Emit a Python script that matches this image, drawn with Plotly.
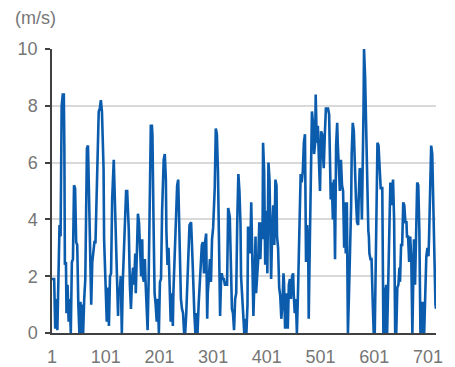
import plotly.graph_objects as go

# Wind speed record: sample number and speed (m/s)
sample_no = [
    1, 5, 7, 8, 11, 13, 15, 17, 19, 21, 23, 24, 25, 27, 28, 30, 32, 34, 36, 38,
    40, 42, 44, 46, 48, 50, 52, 54, 56, 57, 59, 61, 63, 66, 68, 70, 72, 74, 76, 78,
    80, 82, 85, 88, 90, 92, 94, 97, 98, 100, 103, 105, 107, 109, 111, 113, 115, 116, 118, 120,
    122, 124, 125, 127, 129, 131, 133, 136, 139, 141,
    144, 146, 148, 150, 152, 154, 156, 157, 159, 161, 163, 165, 167, 169, 170, 172, 174, 175, 177, 179,
    181, 183, 185, 187, 188, 190, 192, 194, 196, 198, 200, 202, 204, 206, 209, 211, 213, 214, 216, 218,
    220, 222, 224, 226, 227, 229, 232, 234, 236, 237, 239, 241, 243, 245, 247, 249, 251, 253, 255, 257,
    260, 262, 263, 266, 268, 270, 272, 274, 277, 278, 280, 282, 284, 286, 288,
    290, 291, 293, 295, 297, 299, 301, 303, 304, 306, 308, 310, 312, 314, 316, 317, 319, 321, 323, 325,
    327, 329, 330, 332, 334, 336, 338, 340, 342, 344, 346, 348, 350, 352, 353, 355, 357, 359, 361, 363,
    365, 366, 368, 370, 372, 374, 376, 378, 380, 381, 383, 385, 387, 389, 391, 393, 394, 396, 398, 400,
    402, 404, 406, 407, 409, 411, 413, 415, 417, 419, 420, 422, 424, 426, 428, 430, 432,
    433, 435, 437, 438, 440, 442, 444, 446, 448, 450, 451, 453, 455, 457, 459, 461, 463, 464, 466, 468,
    470, 472, 474, 476, 478, 479, 481, 483, 485, 487, 489, 491, 492, 494, 496, 498, 500, 502, 504, 505,
    507, 509, 511, 513, 515, 517, 519, 520, 522, 524, 526, 528, 530, 532, 533, 535, 537, 539, 541, 543,
    545, 546, 548, 550, 552, 554, 556, 558, 559, 561, 563, 565, 567, 569, 571, 572, 574, 576, 578,
    581, 582, 584, 586, 588, 590, 591, 592, 594, 596, 598, 600, 602, 604, 605, 607, 609, 611, 613, 616,
    618, 620, 622, 623, 625, 627, 629, 631, 633, 635, 636, 638, 640, 642, 644, 646, 648, 649, 651, 653,
    655, 657, 659, 661, 662, 664, 666, 668, 670, 672, 674, 675, 677, 679, 681, 683, 685, 687, 689, 690,
    692, 694, 696, 698, 700, 702, 703, 705, 707, 709, 711, 713, 715, 716,
]

speed = [
    1.9, 1.9, 0.15, 1.2, 0.1, 1.9, 3.8, 3.4, 8.0, 8.4, 8.4, 6.6, 2.4, 2.5, 0.7, 1.7, 0.4, 1.2, 0.0, 2.5,
    2.6, 5.2, 5.1, 3.2, 3.1, 1.0, 0.0, 1.1, 0.0, 1.0, 0.0, 1.2, 1.9, 6.5, 6.6, 4.8, 2.5, 1.0, 2.5, 2.8,
    3.2, 3.2, 5.2, 7.8, 7.9, 8.2, 7.8, 5.8, 3.3, 1.7, 0.4, 1.6, 0.25, 2.0, 2.1, 4.7, 6.1, 6.1, 4.7, 3.2,
    1.4, 0.6, 1.6, 1.4, 2.0, 0.0, 1.9, 3.6, 5.0, 5.0,
    3.6, 1.7, 0.85, 1.9, 2.3, 1.7, 2.8, 1.4, 2.8, 4.2, 3.9, 3.1, 2.0, 3.3, 2.0, 1.8, 2.6, 1.9, 1.0, 0.1,
    1.9, 4.5, 7.3, 7.3, 7.0, 4.0, 1.4, 1.0, 0.4, 1.2, 0.0, 1.8, 1.9, 4.3, 6.1, 6.3, 5.4, 3.6, 2.4, 3.0,
    1.7, 0.4, 1.4, 0.25, 1.4, 2.6, 3.7, 5.2, 5.4, 4.5, 3.0, 1.2, 0.85, 0.7, 0.0, 0.0, 0.7, 1.9, 2.8, 3.8,
    3.9, 3.2, 2.4, 0.7, 0.0, 0.7, 0.0, 1.0, 2.0, 2.1, 3.1, 3.2, 2.1, 3.2, 3.5,
    0.5, 1.4, 1.9, 2.6, 1.8, 3.3, 3.7, 4.6, 5.1, 7.2, 7.0, 5.7, 3.1, 0.6, 2.0, 2.1, 1.9, 1.9, 1.7, 1.7,
    1.7, 4.4, 4.3, 4.1, 2.5, 0.85, 0.7, 0.1, 1.2, 1.4, 4.0, 5.6, 5.0, 3.8, 2.0, 1.3, 0.7, 0.0, 0.5, 0.0,
    1.0, 3.7, 3.7, 2.8, 4.6, 3.1, 0.6, 1.9, 3.4, 1.4, 1.9, 2.6, 3.9, 2.6, 3.9, 3.3, 6.7, 5.7, 2.4, 4.3,
    2.1, 6.0, 5.4, 3.3, 1.9, 3.6, 4.5, 3.1, 5.4, 5.2, 3.4, 3.0, 1.6, 1.3, 0.5, 1.0, 2.1,
    1.8, 0.15, 1.3, 1.4, 0.15, 1.7, 1.9, 1.2, 2.0, 2.1, 1.4, 0.7, 1.2, 0.0, 1.4, 3.1, 3.8, 5.6, 5.3, 5.7,
    6.7, 7.0, 2.5, 3.8, 3.1, 0.5, 3.1, 5.4, 7.8, 7.4, 6.3, 6.7, 8.4, 6.7, 7.3, 6.1, 5.0, 7.1, 7.0, 6.5,
    5.8, 7.0, 7.9, 7.9, 7.9, 7.7, 6.3, 4.7, 5.3, 4.0, 5.4, 2.6, 6.6, 7.4, 6.7, 6.0, 5.0, 6.1, 5.2, 5.0,
    3.0, 4.6, 2.8, 4.6, 0.0, 1.4, 2.6, 4.5, 6.3, 7.4, 7.1, 5.7, 4.7, 3.9, 3.8, 4.7, 5.8, 5.7, 4.0,
    7.8, 10.0, 9.0, 6.7, 5.7, 3.6, 3.4, 2.8, 2.6, 2.6, 1.2, 0.0, 0.0, 3.1, 5.4, 6.7, 6.6, 5.8, 5.1, 5.1,
    0.0, 1.6, 0.0, 1.7, 0.0, 1.7, 4.3, 5.3, 4.5, 5.3, 5.4, 4.0, 0.0, 0.0, 1.6, 1.7, 2.3, 1.8, 3.1, 3.1,
    4.6, 4.5, 3.9, 3.9, 3.4, 3.4, 2.5, 3.4, 2.6, 0.0, 1.9, 3.3, 1.7, 4.3, 5.3, 5.2, 3.6, 0.0, 1.1, 0.0,
    1.1, 0.0, 2.0, 2.7, 3.0, 2.7, 3.3, 4.8, 6.6, 6.3, 4.3, 2.5, 1.0, 0.85,
]

x_ticks = [1, 101, 201, 301, 401, 501, 601, 701]
y_ticks = [0, 2, 4, 6, 8, 10]
unit_label = "(m/s)"

LINE_BLUE = "#0b5cad"
TEXT_GRAY = "#767676"
GRID_GRAY = "#d9d9d9"
AXIS_DARK = "#404040"

fig = go.Figure(
    go.Scatter(
        x=sample_no,
        y=speed,
        mode="lines",
        line=dict(color=LINE_BLUE, width=2.6),
        hoverinfo="skip",
    )
)

fig.update_layout(
    width=455,
    height=367,
    margin=dict(l=52, r=19, t=49, b=34),
    paper_bgcolor="white",
    plot_bgcolor="white",
    showlegend=False,
    font=dict(family="Arial, Liberation Sans, sans-serif", color=TEXT_GRAY, size=18),
    annotations=[
        dict(
            text=unit_label,
            xref="paper",
            yref="paper",
            x=-0.102,
            y=1.11,
            xanchor="left",
            yanchor="middle",
            showarrow=False,
            font=dict(size=18, color=TEXT_GRAY),
        )
    ],
)

fig.update_xaxes(
    range=[1, 716],
    tickvals=x_ticks,
    ticktext=[str(v) for v in x_ticks],
    showgrid=False,
    zeroline=False,
    showline=True,
    linecolor=AXIS_DARK,
    linewidth=1.5,
    ticks="",
    ticklabelstandoff=7,
    automargin=False,
    tickfont=dict(size=18, color=TEXT_GRAY),
)

fig.update_yaxes(
    range=[0, 10],
    tickvals=y_ticks,
    showgrid=True,
    gridcolor=GRID_GRAY,
    gridwidth=2,
    zeroline=False,
    showline=True,
    linecolor=AXIS_DARK,
    linewidth=1.5,
    ticks="outside",
    ticklen=5,
    tickwidth=1.5,
    tickcolor=AXIS_DARK,
    ticklabelstandoff=4,
    automargin=False,
    tickfont=dict(size=18, color=TEXT_GRAY),
)

fig.write_html("out.html")
